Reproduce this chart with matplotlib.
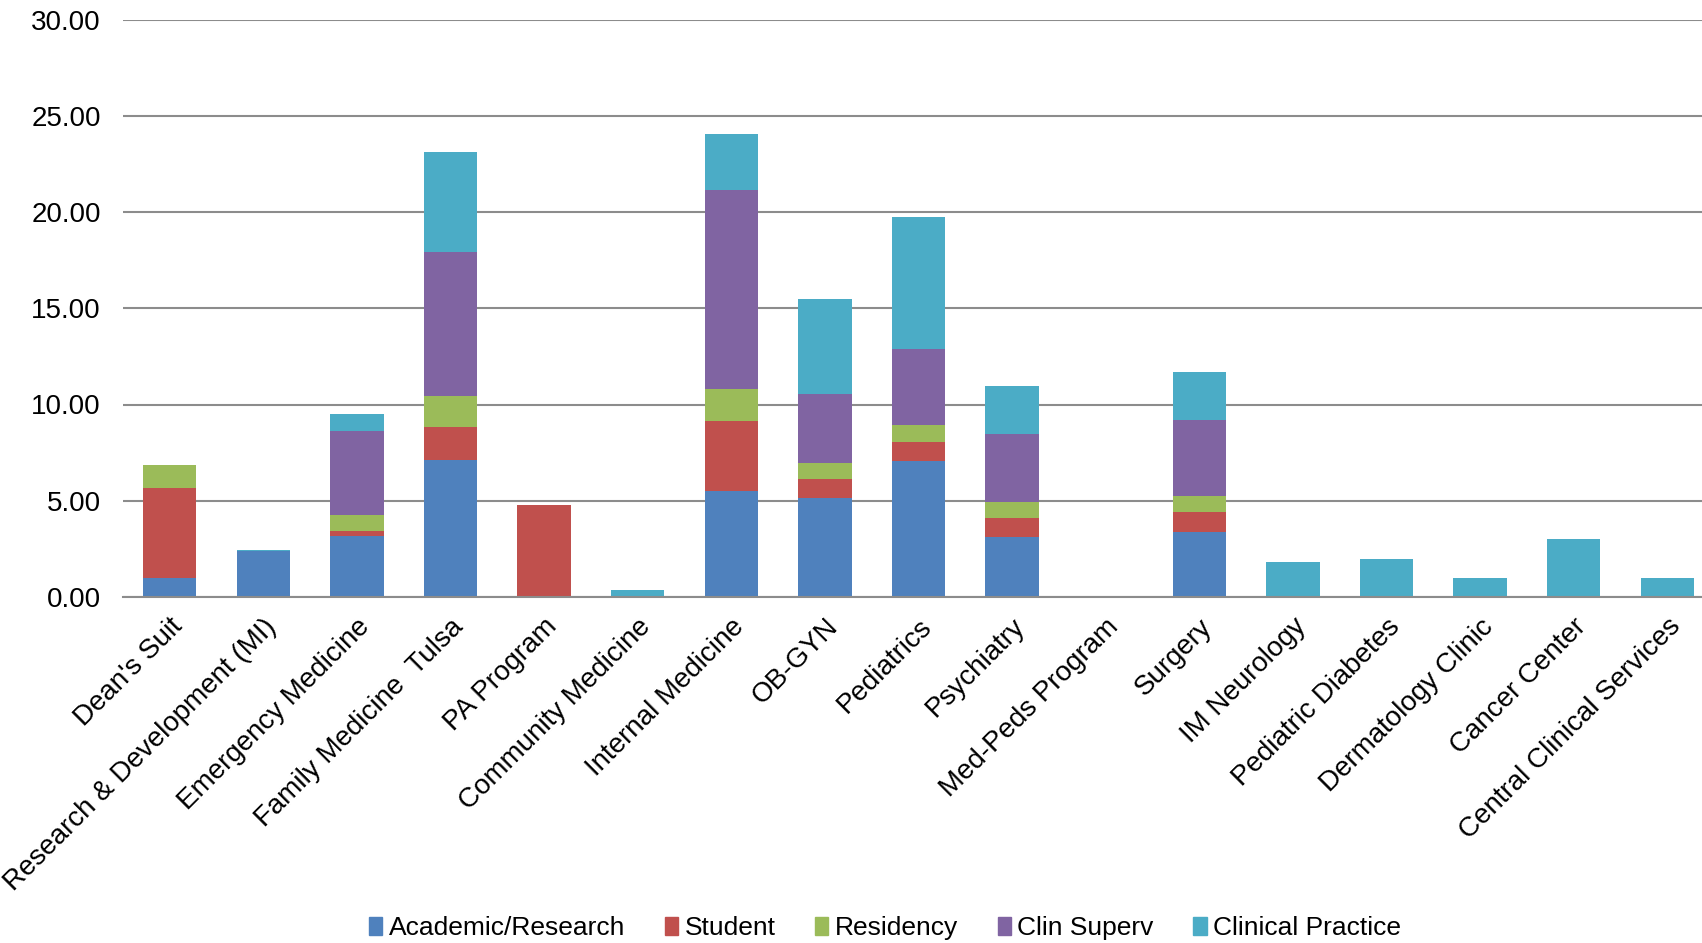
import matplotlib
matplotlib.use("Agg")
import matplotlib.pyplot as plt
from matplotlib.patches import Patch
import numpy as np

plt.rcParams['font.family'] = ['Liberation Sans', 'DejaVu Sans']

departments = ["Dean's Suit", "Research & Development (MI)", "Emergency Medicine",
               "Family Medicine  Tulsa", "PA Program", "Community Medicine",
               "Internal Medicine", "OB-GYN", "Pediatrics", "Psychiatry",
               "Med-Peds Program", "Surgery", "IM Neurology", "Pediatric Diabetes",
               "Dermatology Clinic", "Cancer Center", "Central Clinical Services"]

academic = [1.00, 2.37, 3.17, 7.10, 0, 0, 5.49, 5.16, 7.09, 3.14, 0, 3.40, 0, 0, 0, 0, 0]
student = [4.68, 0, 0.25, 1.75, 4.76, 0, 3.64, 0.97, 0.97, 0.97, 0, 1.00, 0, 0, 0, 0, 0]
residency = [1.20, 0, 0.84, 1.57, 0, 0, 1.68, 0.85, 0.87, 0.83, 0, 0.87, 0, 0, 0, 0, 0]
clin_superv = [0, 0, 4.34, 7.51, 0, 0, 10.32, 3.54, 3.93, 3.55, 0, 3.93, 0, 0, 0, 0, 0]
clinical = [0, 0.08, 0.93, 5.21, 0, 0.35, 2.91, 4.96, 6.90, 2.48, 0, 2.50, 1.80, 2.00, 1.00, 3.00, 1.00]

series = [("Academic/Research", academic, "#4F81BD"),
          ("Student", student, "#C0504D"),
          ("Residency", residency, "#9BBB59"),
          ("Clin Superv", clin_superv, "#8064A2"),
          ("Clinical Practice", clinical, "#4BACC6")]

fig = plt.figure(figsize=(17.02, 9.43), dpi=100)
ax = fig.add_axes([123 / 1702, 1 - 597 / 943, 1591 / 1702, (597 - 19.5) / 943])

x = np.arange(len(departments))
bottom = np.zeros(len(departments))
for name, vals, color in series:
    vals = np.array(vals)
    ax.bar(x, vals, width=0.57, bottom=bottom, color=color, linewidth=0, label=name)
    bottom += vals

ax.set_xlim(-0.5, len(departments) - 0.5)
ax.set_ylim(0, 30)
ax.set_yticks(np.arange(0, 31, 5))
ax.set_yticklabels([f"{v:.2f}" for v in np.arange(0, 31, 5)], fontsize=20)
ax.yaxis.grid(True, color="#8c8c8c", linewidth=1.5)
ax.set_axisbelow(True)
for side in ["left", "right", "top"]:
    ax.spines[side].set_visible(False)
ax.spines["bottom"].set_color("#8c8c8c")
ax.spines["bottom"].set_linewidth(1.5)
ax.tick_params(axis="y", length=0, pad=16)
ax.tick_params(axis="x", length=0, pad=12)

ax.set_xticks(x)
ax.set_xticklabels(departments, rotation=45, ha="right", rotation_mode="anchor", fontsize=20)

handles = [Patch(color=c, label=n) for n, _, c in series]
fig.legend(handles=handles, loc="lower center", bbox_to_anchor=(0.52, -0.022), ncol=5,
           frameon=False, fontsize=19, handlelength=0.5, handleheight=0.65,
           handletextpad=0.25, columnspacing=1.5)

fig.savefig("out.png", dpi=100)
